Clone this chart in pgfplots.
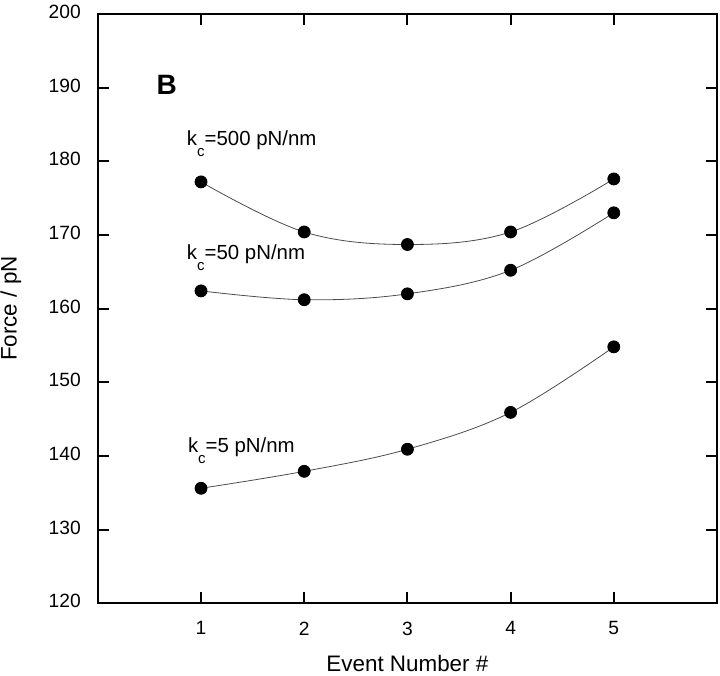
\documentclass[border=0pt]{standalone}
\usepackage{fontspec}
\setmainfont{Liberation Sans}
\usepackage{pgfplots}
\pgfplotsset{compat=1.18}
\newcommand{\kc}{k\raisebox{-5.5pt}{\fontsize{7.5}{8}\selectfont c}}
\pgfplotsset{curve/.style={smooth, tension=0.6, black!70, line width=0.4pt,
  mark=*, mark size=3pt, mark options={fill=black, draw=black, solid}}}
\begin{document}
\begin{tikzpicture}
\begin{axis}[
  scale only axis,
  width=309.5pt, height=294.5pt,
  xmin=0, xmax=6, ymin=120, ymax=200,
  xtick={1,2,3,4,5},
  ytick={120,130,140,150,160,170,180,190,200},
  tick align=inside,
  major tick length=5.5pt,
  axis line style={line width=1.1pt},
  tick style={line width=1pt, black},
  ticklabel style={font=\fontsize{9.6}{11}\selectfont},
  yticklabel style={xshift=-5pt, yshift=1pt},
  xticklabel style={yshift=-5.7pt},
  /pgf/number format/assume math mode=true,
  xlabel={Event Number \#},
  ylabel={Force / pN},
  label style={font=\fontsize{11.2}{13}\selectfont},
  xlabel style={at={(axis description cs:0.5,-0.1154)}, anchor=base},
  ylabel style={at={(axis description cs:-0.1405,0.5)}, anchor=center},
]
% kc = 500 pN/nm
\addplot[curve] coordinates {(1,177.2) (2,170.4) (3,168.7) (4,170.4) (5,177.6)};
% kc = 50 pN/nm
\addplot[curve] coordinates {(1,162.4) (2,161.2) (3,162.0) (4,165.2) (5,173.0)};
% kc = 5 pN/nm
\addplot[curve] coordinates {(1,135.6) (2,137.9) (3,140.9) (4,145.9) (5,154.8)};

\node[anchor=base west, font=\fontsize{14}{16}\selectfont\bfseries, inner sep=0pt] at (axis cs:0.565,189.0) {B};
\node[anchor=base west, font=\fontsize{10.2}{12}\selectfont, inner sep=0pt] at (axis cs:0.86,182.2) {\kc=500 pN/nm};
\node[anchor=base west, font=\fontsize{10.2}{12}\selectfont, inner sep=0pt] at (axis cs:0.86,166.6) {\kc=50 pN/nm};
\node[anchor=base west, font=\fontsize{10.2}{12}\selectfont, inner sep=0pt] at (axis cs:0.87,140.5) {\kc=5 pN/nm};
\end{axis}
\pgfresetboundingbox
\path[use as bounding box] ([shift={(-48.9pt,-36pt)}]current axis.south west) rectangle ([shift={(1.5pt,7pt)}]current axis.north east);
\end{tikzpicture}
\end{document}
